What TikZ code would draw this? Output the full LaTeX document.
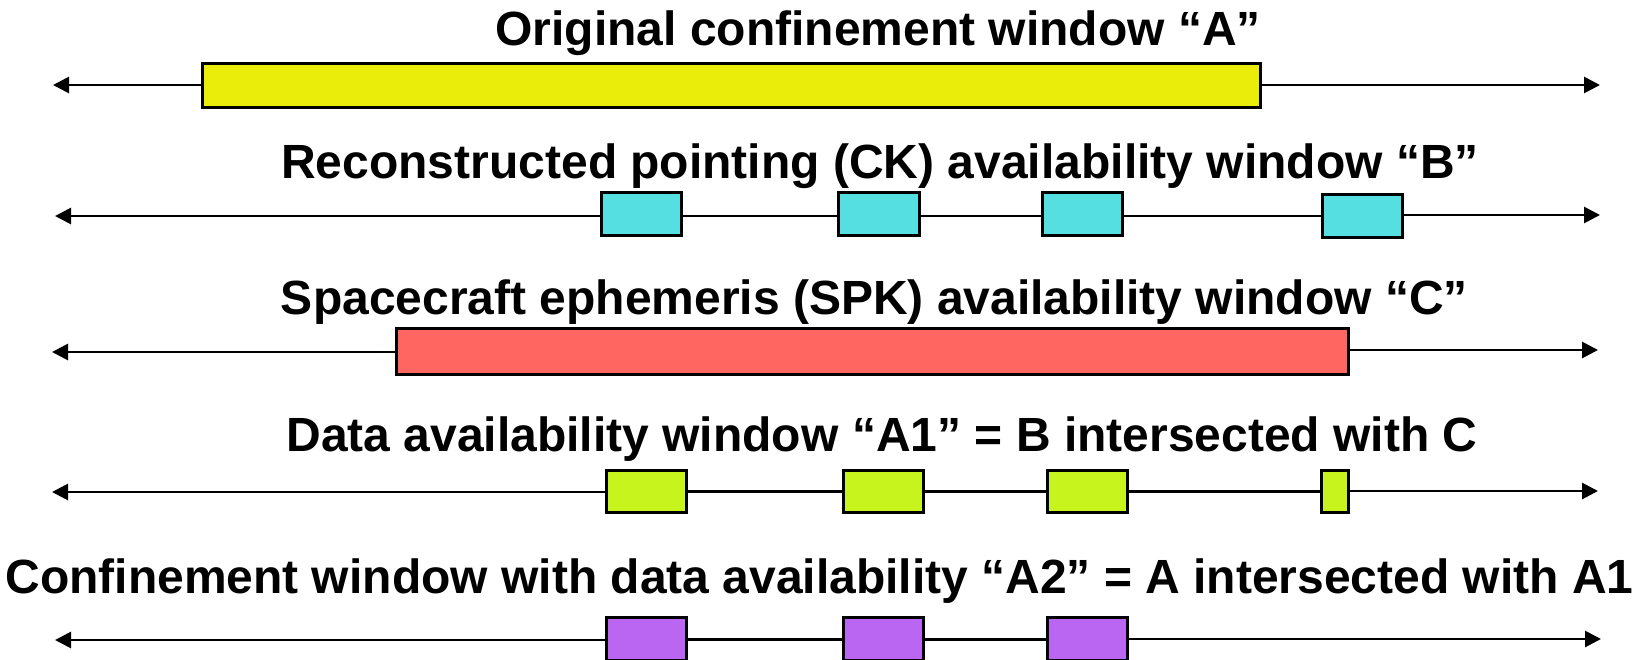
\documentclass[tikz,border=0pt]{standalone}
\usepackage{fontspec}
\setmainfont{Liberation Sans}
\usetikzlibrary{arrows.meta}
\definecolor{cyel}{RGB}{234,236,10}
\definecolor{ccya}{RGB}{85,223,224}
\definecolor{cred}{RGB}{255,102,98}
\definecolor{cgrn}{RGB}{198,244,28}
\definecolor{cpur}{RGB}{187,102,243}
\tikzset{
  win/.style={draw=black, line width=3pt, inner sep=0pt, rectangle},
  ybox/.style={win, fill=cyel},
  cbox/.style={win, fill=ccya},
  rbox/.style={win, fill=cred},
  gbox/.style={win, fill=cgrn},
  pbox/.style={win, fill=cpur},
  ttl/.style={anchor=base, inner sep=0pt, font=\fontsize{48}{50}\selectfont\bfseries},
  axis/.style={line width=2.8pt, draw=black},
  tip/.style={-{Triangle[length=16pt,width=16pt]}},
}
\begin{document}
\begin{tikzpicture}[x=1pt,y=-1pt]
\useasboundingbox (0,0) rectangle (1634,659);
% Row 1
\node[ttl] (t1) at (878,45.7) {Original confinement window “A”};
\node[ybox, minimum width=1058pt, minimum height=44pt] (a1) at (731,85) {};
\coordinate (l1) at (53,85);
\coordinate (r1) at (1600,85);
\draw[axis,tip] (a1.west) -- (l1);
\draw[axis,tip] (a1.east) -- (r1);
% Row 2
\node[ttl] (t2) at (880,178.3) {Reconstructed pointing (CK) availability window “B”};
\node[cbox, minimum width=80pt, minimum height=43pt] (b1) at (641,214) {};
\node[cbox, minimum width=81pt, minimum height=43pt] (b2) at (878.5,214) {};
\node[cbox, minimum width=80pt, minimum height=43pt] (b3) at (1082,214) {};
\node[cbox, minimum width=80pt, minimum height=43pt] (b4) at (1362,215.5) {};
\coordinate (l2) at (55,216);
\coordinate (r2) at (1600,215);
\draw[axis,tip] (b1.west|-l2) -- (l2);
\draw[axis] (b1.east|-0,216) -- (b2.west|-0,216);
\draw[axis] (b2.east|-0,216) -- (b3.west|-0,216);
\draw[axis] (b3.east|-0,216) -- (b4.west|-0,216);
\draw[axis,tip] (b4.east|-r2) -- (r2);
% Row 3
\node[ttl] (t3) at (874.5,314) {Spacecraft ephemeris (SPK) availability window “C”};
\node[rbox, minimum width=952pt, minimum height=46pt] (c1) at (872,351) {};
\coordinate (l3) at (52,352);
\coordinate (r3) at (1598,350);
\draw[axis,tip] (c1.west|-l3) -- (l3);
\draw[axis,tip] (c1.east|-r3) -- (r3);
% Row 4
\node[ttl] (t4) at (882,451.7) {Data availability window “A1” = B intersected with C};
\node[gbox, minimum width=80pt, minimum height=42pt] (d1) at (646,491) {};
\node[gbox, minimum width=80pt, minimum height=42pt] (d2) at (883,491) {};
\node[gbox, minimum width=80pt, minimum height=42pt] (d3) at (1087,491) {};
\node[gbox, minimum width=27pt, minimum height=42pt] (d4) at (1335,491) {};
\coordinate (l4) at (52,492);
\coordinate (r4) at (1598,491);
\draw[axis,tip] (d1.west|-l4) -- (l4);
\draw[axis] (d1.east|-0,491.5) -- (d2.west|-0,491.5);
\draw[axis] (d2.east|-0,491.5) -- (d3.west|-0,491.5);
\draw[axis] (d3.east|-0,491.5) -- (d4.west|-0,491.5);
\draw[axis,tip] (d4.east|-r4) -- (r4);
% Row 5
\node[ttl] (t5) at (819.5,593.3) {Confinement window with data availability “A2” = A intersected with A1};
\node[pbox, minimum width=80pt, minimum height=43pt] (e1) at (646,639) {};
\node[pbox, minimum width=80pt, minimum height=43pt] (e2) at (883,639) {};
\node[pbox, minimum width=80pt, minimum height=43pt] (e3) at (1087,639) {};
\coordinate (l5) at (55,640);
\coordinate (r5) at (1601,639);
\draw[axis,tip] (e1.west|-l5) -- (l5);
\draw[axis] (e1.east|-0,639.5) -- (e2.west|-0,639.5);
\draw[axis] (e2.east|-0,639.5) -- (e3.west|-0,639.5);
\draw[axis,tip] (e3.east|-r5) -- (r5);
\end{tikzpicture}
\end{document}
